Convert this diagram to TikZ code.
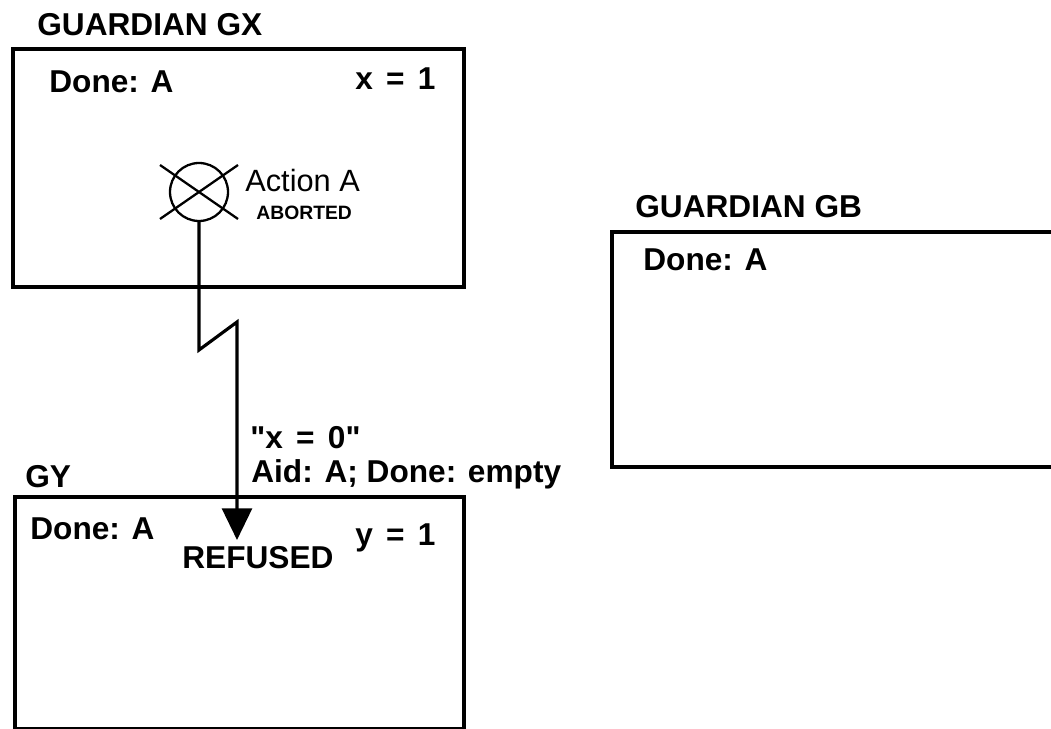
\documentclass[tikz,border=0pt]{standalone}
\usepackage{fontspec}
\setmainfont{Liberation Sans}
\usepackage{tikz}
\usetikzlibrary{positioning,calc}
\usetikzlibrary{arrows.meta}
\newcommand{\wsp}{\hspace{0.42em}}
\tikzset{
  gbox/.style={draw=black,line width=2.1pt,anchor=north west,inner sep=0pt},
  wire/.style={draw=black,line width=1.8pt},
  lab/.style={anchor=base west,inner sep=0pt,font=\bfseries\fontsize{18}{21}\selectfont},
}
\tikzset{plain/.style={anchor=base west,inner sep=0pt,font=\fontsize{17.5}{20}\selectfont}, small/.style={anchor=base west,inner sep=0pt,font=\bfseries\fontsize{11}{13}\selectfont},act/.style={circle,draw=black,line width=1.3pt,minimum size=1.16cm,inner sep=0pt}}

\begin{document}
\begin{tikzpicture}[x=0.02cm,y=-0.02cm]
\useasboundingbox (0,0) rectangle (1051,729);
\clip (0,0) rectangle (1051,729);
\node[gbox,minimum width=9.02cm,minimum height=4.76cm] (gx) at (11,47) {};
\node[gbox,minimum width=8.98cm,minimum height=4.64cm] (gy) at (13,495) {};
\node[gbox,minimum width=9.4cm,minimum height=4.7cm] (gb) at (610,230) {};
\node[lab] (gxt) at (37,36) {GUARDIAN GX};
\node[lab] (gxd) at (49,93) {Done: A};
\node[lab] (gxx) at (355,90) {x\wsp=\wsp1};
\node[act] (acta) at (199,192) {};
\draw[line width=1.3pt] (acta.center) ++(-39,-27) -- ++(78,54);
\draw[line width=1.3pt] (acta.center) ++(-39,27) -- ++(78,-54);
\node[plain] (actt) at (245,192) {Action A};
\node[small] (abrt) at (256,220) {ABORTED};
\node[lab] (gyt) at (25,487) {GY};
\node[lab] (gyd) at (30,539) {Done: A};
\node[lab] (ref) at (182,568) {REFUSED};
\node[lab] (gyy) at (355,545) {y\wsp=\wsp1};
\node[lab] (msg1) at (250,448) {\textquotedbl x\wsp=\wsp0\textquotedbl};
\node[lab] (msg2) at (251,482) {Aid: A; Done: empty};
\node[lab] (gbt) at (635,218) {GUARDIAN GB};
\node[lab] (gbd) at (643,271) {Done: A};
\coordinate (zz1) at (199,350);
\coordinate (zz2) at (237,322);
\coordinate (tip) at (237,540);
\draw[wire,-{Triangle[length=18pt,width=17pt]}] (acta.south) -- (zz1) -- (zz2) -- (tip);
\end{tikzpicture}
\end{document}
